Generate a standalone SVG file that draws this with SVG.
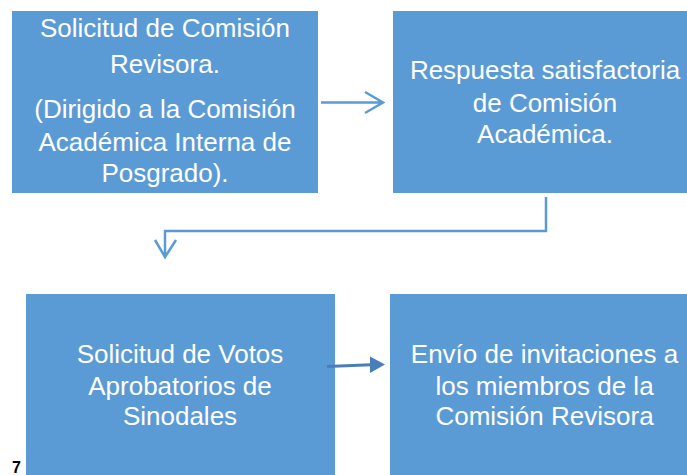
<svg xmlns="http://www.w3.org/2000/svg" width="687" height="475" viewBox="0 0 687 475">
<style>
.box{fill:#5b9bd5}
.t{font-family:"Liberation Sans",Arial,sans-serif;font-size:26px;fill:#fff;text-anchor:middle}
.c{fill:none;stroke:#5b9bd5;stroke-width:2.5}
</style>
<rect width="687" height="475" fill="#fff"/>
<g id="n1">
<rect class="box" x="12" y="11" width="306" height="182"/>
<text class="t" x="165" y="37">Solicitud de Comisión</text>
<text class="t" x="165" y="72.5">Revisora.</text>
<text class="t" x="165" y="118">(Dirigido a la Comisión</text>
<text class="t" x="165" y="150.5">Académica Interna de</text>
<text class="t" x="165" y="182">Posgrado).</text>
</g>
<g id="n2">
<rect class="box" x="393" y="11" width="304" height="182"/>
<text class="t" x="545" y="79">Respuesta satisfactoria</text>
<text class="t" x="545" y="112">de Comisión</text>
<text class="t" x="545" y="143">Académica.</text>
</g>
<g id="n3">
<rect class="box" x="26" y="294" width="309" height="190"/>
<text class="t" x="180" y="363">Solicitud de Votos</text>
<text class="t" x="180" y="395">Aprobatorios de</text>
<text class="t" x="180" y="425">Sinodales</text>
</g>
<g id="n4">
<rect class="box" x="390" y="294" width="309" height="190"/>
<text class="t" x="544.5" y="363">Envío de invitaciones a</text>
<text class="t" x="544.5" y="395">los miembros de la</text>
<text class="t" x="544.5" y="425">Comisión Revisora</text>
</g>
<g id="connectors">
<path class="c" d="M321 102.5H383M365 92L383 102.5L365 113"/>
<path class="c" d="M546 197V231H165V257M155 240L165 257L176 240"/>
<path d="M327 366.5L371 364.8" fill="none" stroke="#4a7ebb" stroke-width="3"/>
<path d="M370 356.5L385 364.5L370 373Z" fill="#4a7ebb"/>
</g>
<text x="12" y="473" style="font-family:'Liberation Sans',Arial,sans-serif;font-size:16px;font-weight:bold;fill:#000">7</text>
</svg>
